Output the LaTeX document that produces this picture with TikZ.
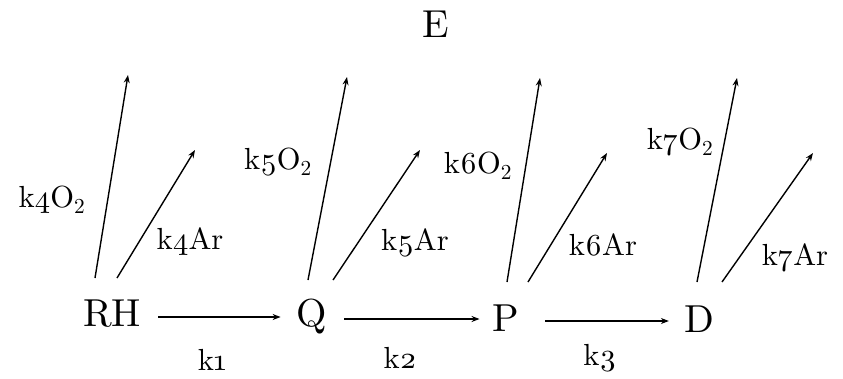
\documentclass[tikz,border=0pt]{standalone}
\usepackage{fontspec}
\setmainfont{lmroman10-regular.otf}
\usetikzlibrary{arrows.meta}
\newcommand\kr[2]{k\oldstylenums{#1}#2}
\begin{document}
\begin{tikzpicture}[x=1pt,y=-1pt,
  species/.style={font=\fontsize{39}{41}\selectfont, inner sep=0pt},
  rate/.style={font=\fontsize{30.5}{33}\selectfont, inner sep=0pt},
  arr/.style={-{Stealth[length=8pt,width=6pt]}, line width=1.4pt}]
\path[use as bounding box] (0,0) rectangle (843,378);
% species
\node[species] (RH) at (112,314) {RH};
\node[species] (Q) at (312,317) {Q};
\node[species] (P) at (506,318) {P};
\node[species] (D) at (699,319) {D};
\node[species] (E) at (436,24) {E};
% rate labels
\node[rate] (k1) at (212,360) {\kr{1}{}};
\node[rate] (k2) at (400,358) {\kr{2}{}};
\node[rate] (k3) at (600,358) {\kr{3}{}};
\node[rate] (k4O) at (52,200) {\kr{4}{O\textsubscript{2}}};
\node[rate] (k4A) at (190,242) {\kr{4}{Ar}};
\node[rate] (k5O) at (278,162) {\kr{5}{O\textsubscript{2}}};
\node[rate] (k5A) at (415,243) {\kr{5}{Ar}};
\node[rate] (k6O) at (478,166) {\kr{6}{O\textsubscript{2}}};
\node[rate] (k6A) at (603,245) {\kr{6}{Ar}};
\node[rate] (k7O) at (680,142) {\kr{7}{O\textsubscript{2}}};
\node[rate] (k7A) at (795,258) {\kr{7}{Ar}};
% horizontal arrows
\draw[arr] ([xshift=17pt,yshift=-3pt]RH.east) -- ([xshift=-16pt,yshift=0pt]Q.west);
\draw[arr] ([xshift=17pt,yshift=-2pt]Q.east) -- ([xshift=-13pt,yshift=-1pt]P.west);
\draw[arr] ([xshift=26pt,yshift=-3pt]P.east) -- ([xshift=-15pt,yshift=-2pt]D.west);
% escape arrows
\coordinate (RHo) at (95,278);  \coordinate (RHoe) at (128,75);
\coordinate (RHa) at (117,278); \coordinate (RHae) at (195,150);
\coordinate (Qo) at (308,280);  \coordinate (Qoe) at (347,77);
\coordinate (Qa) at (333,280);  \coordinate (Qae) at (420,150);
\coordinate (Po) at (507,282);  \coordinate (Poe) at (540,78);
\coordinate (Pa) at (528,282);  \coordinate (Pae) at (607,153);
\coordinate (Do) at (697,282);  \coordinate (Doe) at (737,78);
\coordinate (Da) at (722,282);  \coordinate (Dae) at (813,153);
\foreach \s in {RH,Q,P,D}{
  \draw[arr] (\s o) -- (\s oe);
  \draw[arr] (\s a) -- (\s ae);
}
\end{tikzpicture}
\end{document}
